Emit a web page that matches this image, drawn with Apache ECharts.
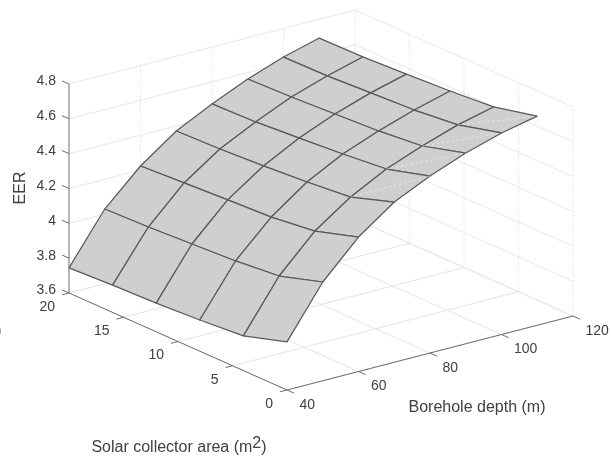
<!DOCTYPE html>
<html>
<head>
<meta charset="utf-8">
<style>html,body{margin:0;padding:0;background:#fff}#c{width:611px;height:457px}</style>
<script src="https://cdn.jsdelivr.net/npm/echarts@6/dist/echarts.min.js"></script>
</head>
<body>
<div id="c"></div>
<script>
// Data
const solarArea = [20, 16, 12, 8, 4, 0];
const boreDepth = [40, 50, 60, 70, 80, 90, 100, 110];
const eerS20 = [3.744, 4.029, 4.223, 4.371, 4.473, 4.563, 4.636, 4.692];
const eerS16 = [3.757, 4.037, 4.237, 4.379, 4.481, 4.571, 4.639, 4.695];
const eerS12 = [3.765, 4.051, 4.251, 4.393, 4.500, 4.585, 4.653, 4.708];
const eerS8  = [3.779, 4.065, 4.264, 4.412, 4.520, 4.599, 4.666, 4.722];
const eerS4  = [3.799, 4.090, 4.295, 4.437, 4.545, 4.624, 4.692, 4.742];
const eerS0  = [3.876, 4.167, 4.372, 4.520, 4.616, 4.695, 4.757, 4.801];
const eerRows = [eerS20, eerS16, eerS12, eerS8, eerS4, eerS0];
const solarTicks = [0, 5, 10, 15, 20];
const depthTicks = [40, 60, 80, 100, 120];
const eerTicks = [3.6, 3.8, 4, 4.2, 4.4, 4.6, 4.8];
const eerTickLabels = ['3.6', '3.8', '4', '4.2', '4.4', '4.6', '4.8'];
const labelDepth = 'Borehole depth (m)';
const labelEER = 'EER';

// Orthographic projection of the 3D box onto the hidden 2D axes
const ORIGIN = [287, 390];            // s=0, d=40, z=3.6
const S_VEC = [-218 / 20, -97 / 20];  // per m2
const D_VEC = [286 / 80, -74 / 80];   // per m
const Z_VEC = -209 / 1.2;             // per EER
function P(s, d, z) {
  return [
    ORIGIN[0] + s * S_VEC[0] + (d - 40) * D_VEC[0],
    ORIGIN[1] + s * S_VEC[1] + (d - 40) * D_VEC[1] + (z - 3.6) * Z_VEC
  ];
}
const S0 = 0, S1 = 20, D0 = 40, D1 = 120, Z0 = 3.6, Z1 = 4.8;

function seg(a, b) { return [a[0], a[1], b[0], b[1]]; }

function segSeries(segs, style, z) {
  return {
    type: 'custom', coordinateSystem: 'cartesian2d', silent: true, z: z, clip: false,
    encode: { x: [0, 2], y: [1, 3] },
    data: segs,
    renderItem: (p, api) => {
      const a = api.coord([api.value(0), api.value(1)]);
      const b = api.coord([api.value(2), api.value(3)]);
      return { type: 'line', shape: { x1: a[0], y1: a[1], x2: b[0], y2: b[1] }, style: style };
    }
  };
}

function textSeries(items, z) {
  return {
    type: 'custom', coordinateSystem: 'cartesian2d', silent: true, z: z, clip: false,
    encode: { x: 0, y: 1 },
    data: items.map(t => [t.x, t.y]),
    renderItem: (p, api) => {
      const t = items[p.dataIndex];
      const c = api.coord([api.value(0), api.value(1)]);
      return {
        type: 'text', x: c[0], y: c[1], rotation: t.rotation || 0,
        style: Object.assign({
          text: t.text, fill: TEXT, font: (t.size || 14) + 'px "Liberation Sans", Arial, sans-serif',
          align: t.align || 'center', verticalAlign: 'middle'
        }, t.style || {})
      };
    }
  };
}

const TEXT = '#404040';

// Grid lines on walls and floor
const wallLines = [], wallDots = [], floorLines = [];
eerTicks.forEach(z => {
  wallLines.push(seg(P(S1, D0, z), P(S1, D1, z)));
  wallLines.push(seg(P(S1, D1, z), P(S0, D1, z)));
});
depthTicks.forEach(d => {
  if (d !== D0) wallDots.push(seg(P(S1, d, Z0), P(S1, d, Z1)));
  floorLines.push(seg(P(S0, d, Z0), P(S1, d, Z0)));
});
solarTicks.forEach(s => {
  if (s !== S1) wallDots.push(seg(P(s, D1, Z0), P(s, D1, Z1)));
  floorLines.push(seg(P(s, D0, Z0), P(s, D1, Z0)));
});

// Surface cells, far to near
const cells = [];
for (let i = 0; i < solarArea.length - 1; i++) {
  for (let j = boreDepth.length - 2; j >= 0; j--) cells.push([i, j]);
}
const surfaceSeries = {
  type: 'custom', coordinateSystem: 'cartesian2d', silent: true, z: 5, clip: false,
  encode: { x: 0, y: 1 },
  data: cells,
  renderItem: (p, api) => {
    const i = api.value(0), j = api.value(1);
    const v = (a, b) => api.coord(P(solarArea[a], boreDepth[b], eerRows[a][b]));
    return {
      type: 'polygon',
      shape: { points: [v(i, j), v(i, j + 1), v(i + 1, j + 1), v(i + 1, j)] },
      style: { fill: '#cfcfcf', stroke: '#5a5a5a', lineWidth: 1.25, lineJoin: 'round' }
    };
  }
};

// Faint triangulation seams in the nearest strip of cells
const seams = [];
for (let j = 3; j < boreDepth.length - 1; j++) {
  seams.push(seg(P(solarArea[4], boreDepth[j], eerRows[4][j]), P(solarArea[5], boreDepth[j + 1], eerRows[5][j + 1])));
}

// Axis lines and tick marks
const axisLines = [
  seg(P(S1, D0, Z0), P(S1, D0, Z1)),
  seg(P(S1, D0, Z0), P(S0, D0, Z0)),
  seg(P(S0, D0, Z0), P(S0, D1, Z0))
];
const tickLines = [];
const TS = 0.65, TD = 1.95; // tick lengths in data units
eerTicks.forEach(z => tickLines.push(seg(P(S1, D0, z), P(S1 + TS, D0, z))));
solarTicks.forEach(s => tickLines.push(seg(P(s, D0, Z0), P(s, D0 - TD, Z0))));
depthTicks.forEach(d => tickLines.push(seg(P(S0, d, Z0), P(S0 - TS, d, Z0))));

// Text
const texts = [];
eerTicks.forEach((z, k) => {
  const q = P(S1, D0, z);
  texts.push({ x: 56, y: q[1] - 2.5, text: eerTickLabels[k], align: 'right' });
});
solarTicks.forEach(s => {
  const q = P(s, D0, Z0);
  texts.push({ x: q[0] - 14, y: q[1] + 14, text: String(s), align: 'right' });
});
depthTicks.forEach(d => {
  const q = P(S0, d, Z0);
  texts.push({ x: q[0] + 12.5, y: q[1] + 15, text: String(d), align: 'left' });
});
texts.push({ x: 477, y: 408, text: labelDepth, size: 16 });
texts.push({ x: 21, y: 188, text: labelEER, size: 16, rotation: Math.PI / 2 });
texts.push({ x: 1.5, y: 331, text: ')', size: 14, align: 'right' });
texts.push({
  x: 179, y: 446,
  text: '{a|Solar collector area (m}{s|2}{a|)}',
  style: {
    rich: {
      a: { fontSize: 16, fontFamily: '"Liberation Sans", Arial, sans-serif', fill: TEXT, lineHeight: 20, verticalAlign: 'bottom' },
      s: { fontSize: 16, fontFamily: '"Liberation Sans", Arial, sans-serif', fill: TEXT, lineHeight: 20, verticalAlign: 'top', padding: [0, 0, 6, 0] }
    }
  }
});

const chart = echarts.init(document.getElementById('c'), null, { renderer: 'canvas' });
chart.setOption({
  animation: false,
  backgroundColor: '#ffffff',
  grid: { left: 0, right: 0, top: 0, bottom: 0 },
  xAxis: { type: 'value', min: 0, max: 611, show: false },
  yAxis: { type: 'value', min: 0, max: 457, inverse: true, show: false },
  series: [
    segSeries(floorLines, { stroke: '#e4e4e4', lineWidth: 1 }, 1),
    segSeries(wallLines, { stroke: '#e8e8e8', lineWidth: 1 }, 1),
    segSeries(wallDots, { stroke: '#dcdcdc', lineWidth: 1, lineDash: [1, 1.5] }, 1),
    surfaceSeries,
    segSeries(seams, { stroke: '#ffffff', opacity: 0.55, lineWidth: 1, lineDash: [2, 3] }, 6),
    segSeries(axisLines, { stroke: '#6e6e6e', lineWidth: 1 }, 7),
    segSeries(tickLines, { stroke: '#6e6e6e', lineWidth: 1 }, 7),
    textSeries(texts, 8)
  ]
});
</script>
</body>
</html>
